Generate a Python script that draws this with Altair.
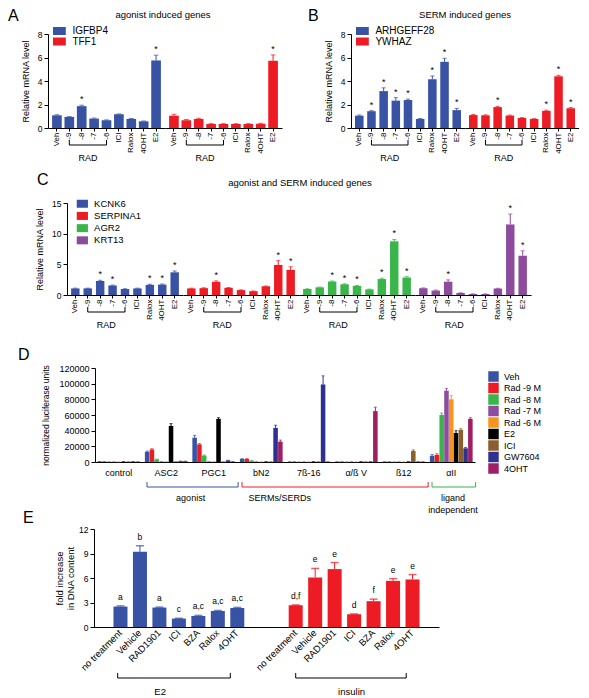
import altair as alt
import pandas as pd

FONT = "Liberation Sans"
BLUE = "#3953a4"
RED = "#ed1c24"
GREEN = "#39b54a"
PURPLE = "#8d4b9e"

conditions = ["Veh", "-9", "-8", "-7", "-6", "ICI", "Ralox", "4OHT", "E2"]

# ---- Panel A ----
igfbp4_val = [1.08, 0.94, 1.86, 0.80, 0.66, 1.17, 0.77, 0.57, 5.75]
igfbp4_err = [0.05, 0.03, 0.08, 0.05, 0.03, 0.03, 0.04, 0.03, 0.45]
igfbp4_sig = ["-8", "E2"]
tff1_val = [1.05, 0.66, 0.77, 0.34, 0.34, 0.34, 0.34, 0.36, 5.72]
tff1_err = [0.12, 0.06, 0.06, 0.03, 0.03, 0.03, 0.03, 0.04, 0.50]
tff1_sig = ["E2"]

# ---- Panel B ----
arhgeff28_val = [1.05, 1.43, 3.14, 2.33, 2.38, 0.77, 4.15, 5.63, 1.52]
arhgeff28_err = [0.06, 0.05, 0.28, 0.25, 0.08, 0.04, 0.28, 0.30, 0.15]
arhgeff28_sig = ["-9", "-8", "-7", "-6", "Ralox", "4OHT", "E2"]
ywhaz_val = [1.10, 1.08, 1.78, 1.06, 0.86, 0.77, 1.46, 4.40, 1.68]
ywhaz_err = [0.05, 0.04, 0.06, 0.04, 0.03, 0.03, 0.06, 0.08, 0.06]
ywhaz_sig = ["-8", "Ralox", "4OHT", "E2"]

# ---- Panel C ----
kcnk6_val = [1.07, 1.08, 2.28, 1.55, 0.98, 1.07, 1.65, 1.70, 3.70]
kcnk6_err = [0.05, 0.04, 0.12, 0.07, 0.05, 0.05, 0.12, 0.10, 0.22]
kcnk6_sig = ["-8", "-7", "Ralox", "4OHT", "E2"]
serpina1_val = [1.07, 1.12, 2.15, 1.17, 0.80, 0.62, 1.42, 4.90, 4.10]
serpina1_err = [0.05, 0.06, 0.15, 0.05, 0.04, 0.04, 0.05, 0.70, 0.50]
serpina1_sig = ["-8", "4OHT", "E2"]
agr2_val = [0.98, 1.25, 2.20, 1.75, 1.48, 0.92, 2.60, 8.75, 2.85]
agr2_err = [0.04, 0.05, 0.10, 0.08, 0.07, 0.05, 0.12, 0.30, 0.15]
agr2_sig = ["-8", "-7", "-6", "Ralox", "4OHT", "E2"]
krt13_val = [1.10, 0.72, 2.17, 0.33, 0.16, 0.16, 1.05, 11.50, 6.40]
krt13_err = [0.06, 0.10, 0.30, 0.03, 0.02, 0.02, 0.05, 1.70, 0.80]
krt13_sig = ["-8", "4OHT", "E2"]

# ---- Panel D ----
d_groups = ["control", "ASC2", "PGC1", "bN2", "7ß-16", "α/ß V", "ß12", "αII"]
d_treat = ["Veh", "Rad -9 M", "Rad -8 M", "Rad -7 M", "Rad -6 M", "E2", "ICI", "GW7604", "4OHT"]
d_colors = ["#3953a4", "#ed1c24", "#39b54a", "#8e4c9f", "#f7941d", "#000000", "#8b5e2b", "#2e3192", "#9e1f63"]
veh_lum = [600, 13000, 31000, 3800, 300, 300, 300, 8000]
veh_lerr = [100, 1000, 3000, 500, 50, 50, 50, 1500]
rad9_lum = [500, 16000, 22500, 3800, 300, 300, 300, 9000]
rad9_lerr = [100, 1000, 1000, 500, 50, 50, 50, 1500]
rad8_lum = [300, 3500, 8200, 1500, 200, 200, 200, 60000]
rad8_lerr = [50, 300, 800, 300, 50, 50, 50, 2500]
rad7_lum = [200, 400, 400, 300, 200, 200, 200, 91000]
rad7_lerr = [50, 50, 50, 50, 50, 50, 50, 3000]
rad6_lum = [200, 400, 400, 300, 200, 200, 200, 80000]
rad6_lerr = [50, 50, 50, 50, 50, 50, 50, 5000]
e2_lum = [300, 46000, 55000, 300, 300, 300, 300, 37000]
e2_lerr = [50, 3000, 1500, 50, 50, 50, 50, 3000]
ici_lum = [300, 400, 300, 300, 300, 300, 14000, 41000]
ici_lerr = [50, 50, 50, 50, 50, 50, 1500, 1500]
gw_lum = [500, 1000, 2000, 43500, 99000, 400, 300, 17500]
gw_lerr = [50, 100, 200, 3500, 11000, 50, 50, 1000]
oht_lum = [300, 1000, 500, 26000, 300, 65000, 300, 55000]
oht_lerr = [50, 100, 50, 2000, 50, 5000, 50, 1500]
d_yticks = [0, 20000, 40000, 60000, 80000, 100000, 120000]

brk_start = ["ASC2", "bN2", "αII"]
brk_end = ["PGC1", "ß12", "αII"]
brk_text = ["agonist", "SERMs/SERDs", "ligand\nindependent"]
brk_color = [BLUE, RED, GREEN]
brk_textpos = [1.0, 0.93, 0.54]
brk_textdx = [3, 0, 0]

# ---- Panel E ----
e_conds = ["no treatment", "Vehicle", "RAD1901", "ICI", "BZA", "Ralox", "4OHT"]
e2_dna = [2.50, 9.20, 2.38, 1.03, 1.35, 1.97, 2.33]
e2_dna_err = [0.08, 0.75, 0.05, 0.04, 0.07, 0.06, 0.07]
e2_letters = ["a", "b", "a", "c", "a,c", "a,c", "a,c"]
ins_dna = [2.66, 6.07, 7.09, 1.56, 3.16, 5.65, 5.82]
ins_dna_err = [0.04, 1.10, 0.80, 0.04, 0.25, 0.27, 0.60]
ins_letters = ["d,f", "e", "e", "d", "f", "e", "e"]
e_yticks = [0, 3, 6, 9, 12]

PO = 0.33
YT_GENE = "Relative mRNA level"
YT_D = "normalized luciferase units"
YT_E = ["fold increase", "in DNA content"]


def text_layer(txt, x, y, size, align="left", baseline="top"):
    return alt.Chart(pd.DataFrame({"t": [txt]})).mark_text(
        fontSize=size, align=align, baseline=baseline, color="black"
    ).encode(x=alt.value(x), y=alt.value(y), text="t:N")


def anchor_layer(x, top, bottom):
    return alt.Chart(pd.DataFrame({"k": [0]})).mark_rule(
        color="white", strokeOpacity=0
    ).encode(x=alt.value(x), y=alt.value(top), y2=alt.value(bottom))


def spacer(w):
    return alt.Chart(pd.DataFrame({"k": [0]})).mark_rule(
        color="white", strokeOpacity=0
    ).encode(x=alt.value(0), y=alt.value(0), y2=alt.value(1)).properties(width=w, height=1)


def gene_sub(gene, vals, errs, sig, color, w, h, ymax, yticks, pad, head):
    df = pd.DataFrame({
        "cond": conditions,
        "val": vals,
        "top": [v + e for v, e in zip(vals, errs)],
        "star": ["*" if c in sig else "" for c in conditions],
        "gene": [gene] * len(conditions),
    })
    if head is not None:
        yaxis = alt.Axis(values=yticks, labelFontSize=8.5, titleFontSize=9, tickSize=4,
                         labelPadding=2, titlePadding=7, labelOverlap=False)
        ykw = {"title": YT_GENE, "axis": yaxis}
        cscale = alt.Scale(domain=head["genes"], range=head["colors"])
        legend = alt.Legend(title=None, orient="none", legendX=head["lx"], legendY=head["ly"],
                            symbolType=head["sym"], symbolSize=64, symbolStrokeWidth=0,
                            labelFontSize=head["lfs"], labelOffset=head["loff"],
                            rowPadding=head["rp"], padding=0)
    else:
        ykw = {"axis": None}
        cscale = alt.Scale(domain=[gene], range=[color])
        legend = None
    xaxis = alt.Axis(labelAngle=-90, labelAlign="right", labelBaseline="middle",
                     labelFontSize=8, labelPadding=1, tickSize=3, labelOverlap=False)
    base = alt.Chart(df)
    bars = base.mark_bar().encode(
        x=alt.X("cond:N", title=None, scale=alt.Scale(domain=conditions, paddingInner=pad, paddingOuter=PO),
                axis=xaxis),
        y=alt.Y("val:Q", scale=alt.Scale(domain=[0, ymax], nice=False), **ykw),
        color=alt.Color("gene:N", scale=cscale, legend=legend),
    )
    xs = alt.X("cond:N", title=None, axis=xaxis)
    step = w / (len(conditions) - pad + 2 * PO)
    err = base.mark_rule(color=color, strokeWidth=1).encode(
        x=xs, y=alt.Y("val:Q", **ykw), y2=alt.Y2("top"))
    cap = base.mark_tick(color=color, thickness=1, size=step * (1 - pad) * 0.5).encode(
        x=xs, y=alt.Y("top:Q", **ykw))
    star = base.mark_text(fontSize=9, baseline="bottom", dy=-1, color="black").encode(
        x=xs, y=alt.Y("top:Q", **ykw), text="star:N")
    line = alt.Chart(pd.DataFrame({"a": ["-9"], "b": ["-6"]})).mark_rule(color="black", strokeWidth=1).encode(
        x=alt.X("a:N", title=None, axis=xaxis), x2=alt.X2("b"), y=alt.value(h + 17))
    ends = alt.Chart(pd.DataFrame({"a": ["-9", "-6"]})).mark_rule(color="black", strokeWidth=1).encode(
        x=alt.X("a:N", title=None, axis=xaxis), y=alt.value(h + 12), y2=alt.value(h + 17))
    rad = alt.Chart(pd.DataFrame({"a": ["-8"], "t": ["RAD"]})).mark_text(
        fontSize=9, baseline="middle", color="black", dx=step * pad / 2).encode(
        x=alt.X("a:N", bandPosition=1, title=None, axis=xaxis), y=alt.value(h + 30), text="t:N")
    return [bars, err, cap, star, line, ends, rad]


def gene_panel(genes, vals, errs, sigs, colors, w, h, ymax, yticks, pad, hd):
    subs = []
    for i, (g, v, e, s, c) in enumerate(zip(genes, vals, errs, sigs, colors)):
        head = None
        if i == 0:
            head = dict(hd, genes=genes, colors=colors)
        layers = gene_sub(g, v, e, s, c, w, h, ymax, yticks, pad, head)
        if i == 0:
            layers += [
                text_layer(hd["letter"], hd["letter_x"], hd["letter_y"], 16),
                text_layer(hd["title"], hd["title_x"], hd["title_y"], 9.5, align="center", baseline="middle"),
                anchor_layer(hd["ax"], hd["atop"], h + hd["abot"]),
            ]
        subs.append(alt.layer(*layers).properties(width=w, height=h))
    return alt.hconcat(*subs, spacing=0, bounds="flush").resolve_scale(color="independent")


RECT_A = "M-1.6,-1H1.6V1H-1.6Z"
RECT_C = "M-1.4,-1H1.4V1H-1.4Z"

panel_a = gene_panel(
    ["IGFBP4", "TFF1"], [igfbp4_val, tff1_val], [igfbp4_err, tff1_err], [igfbp4_sig, tff1_sig],
    [BLUE, RED], 117, 94, 8, [0, 2, 4, 6, 8], 0.22,
    dict(letter="A", letter_x=-40, letter_y=-26, title="agonist induced genes", title_x=115, title_y=-19,
         ax=-39.5, atop=-26, abot=38, lx=6.4, ly=-8, sym=RECT_A, lfs=10, loff=8, rp=0.5))
panel_b = gene_panel(
    ["ARHGEFF28", "YWHAZ"], [arhgeff28_val, ywhaz_val], [arhgeff28_err, ywhaz_err], [arhgeff28_sig, ywhaz_sig],
    [BLUE, RED], 114, 94, 8, [0, 2, 4, 6, 8], 0.3,
    dict(letter="B", letter_x=-43, letter_y=-26, title="SERM induced genes", title_x=114, title_y=-19,
         ax=-43, atop=-26, abot=38, lx=6.4, ly=-8, sym=RECT_A, lfs=10, loff=8, rp=0.5))
panel_c = gene_panel(
    ["KCNK6", "SERPINA1", "AGR2", "KRT13"],
    [kcnk6_val, serpina1_val, agr2_val, krt13_val],
    [kcnk6_err, serpina1_err, agr2_err, krt13_err],
    [kcnk6_sig, serpina1_sig, agr2_sig, krt13_sig],
    [BLUE, RED, GREEN, PURPLE], 116, 92, 15, [0, 5, 10, 15], 0.32,
    dict(letter="C", letter_x=-30, letter_y=-31, title="agonist and SERM induced genes", title_x=233, title_y=-20,
         ax=-58.5, atop=-37, abot=38, lx=10.6, ly=-4, sym=RECT_C, lfs=9.5, loff=7, rp=1.2))

# ---- Panel D chart ----
d_vals = [veh_lum, rad9_lum, rad8_lum, rad7_lum, rad6_lum, e2_lum, ici_lum, gw_lum, oht_lum]
d_errs = [veh_lerr, rad9_lerr, rad8_lerr, rad7_lerr, rad6_lerr, e2_lerr, ici_lerr, gw_lerr, oht_lerr]
d_rows = []
for t, vs, es in zip(d_treat, d_vals, d_errs):
    for g, v, e in zip(d_groups, vs, es):
        d_rows.append({"group": g, "treat": t, "val": v, "top": v + e})
d_df = pd.DataFrame(d_rows)
DW, DH = 380, 94
d_xaxis = alt.Axis(labelAngle=0, labelFontSize=9, ticks=False, labelPadding=6, labelOverlap=False)
d_yaxis = alt.Axis(values=d_yticks, format="d", labelFontSize=9, titleFontSize=8.5,
                   tickSize=4, titlePadding=8, labelOverlap=False)
d_base = alt.Chart(d_df)
d_bars = d_base.mark_bar().encode(
    x=alt.X("group:N", title=None, scale=alt.Scale(domain=d_groups, paddingInner=0.1, paddingOuter=0.05),
            axis=d_xaxis),
    xOffset=alt.XOffset("treat:N", scale=alt.Scale(domain=d_treat, paddingInner=0.05)),
    y=alt.Y("val:Q", title=YT_D, scale=alt.Scale(domain=[0, 120000], nice=False), axis=d_yaxis),
    color=alt.Color("treat:N", scale=alt.Scale(domain=d_treat, range=d_colors),
                    legend=alt.Legend(title=None, orient="none", legendX=393, legendY=3, symbolType="square",
                                      symbolSize=110, symbolStrokeWidth=0, labelFontSize=9, labelOffset=5,
                                      rowPadding=0.5, padding=0)),
)
d_err = d_base.mark_rule(strokeWidth=1).encode(
    x=alt.X("group:N", title=None, axis=d_xaxis), xOffset="treat:N",
    y=alt.Y("val:Q", title=YT_D, axis=d_yaxis), y2=alt.Y2("top"),
    color=alt.Color("treat:N", legend=None))
d_cap = d_base.mark_tick(thickness=1, size=3).encode(
    x=alt.X("group:N", title=None, axis=d_xaxis), xOffset="treat:N",
    y=alt.Y("top:Q", title=YT_D, axis=d_yaxis), color=alt.Color("treat:N", legend=None))
d_layers = [d_bars, d_err, d_cap]
for s, e, txt, col, tp, tdx in zip(brk_start, brk_end, brk_text, brk_color, brk_textpos, brk_textdx):
    bdf = pd.DataFrame({"a": [s], "b": [e], "t": [txt]})
    bc = alt.Chart(bdf)
    d_layers.append(bc.mark_rule(color=col, strokeWidth=1, x2Offset=3).encode(
        x=alt.X("a:N", bandPosition=0.05, title=None, axis=d_xaxis), x2=alt.X2("b", bandPosition=1),
        y=alt.value(DH + 25)))
    d_layers.append(bc.mark_rule(color=col, strokeWidth=1).encode(
        x=alt.X("a:N", bandPosition=0.05, title=None, axis=d_xaxis), y=alt.value(DH + 20), y2=alt.value(DH + 25)))
    d_layers.append(bc.mark_rule(color=col, strokeWidth=1, xOffset=3).encode(
        x=alt.X("b:N", bandPosition=1, title=None, axis=d_xaxis), y=alt.value(DH + 20), y2=alt.value(DH + 25)))
    d_layers.append(bc.mark_text(fontSize=9, baseline="top", lineBreak="\n", lineHeight=12, color="black",
                                 dx=tdx).encode(
        x=alt.X("a:N", bandPosition=tp, title=None, axis=d_xaxis), y=alt.value(DH + 32), text="t:N"))
d_layers += [text_layer("D", -77, -21, 16), anchor_layer(-86.5, -35, DH + 56)]
panel_d = alt.layer(*d_layers).properties(width=DW, height=DH)

# ---- Panel E chart ----
e_keys = [f"E2|{c}" for c in e_conds] + ["gap1", "gap2"] + [f"insulin|{c}" for c in e_conds]
e_df = pd.DataFrame({
    "key": [f"E2|{c}" for c in e_conds] + [f"insulin|{c}" for c in e_conds],
    "val": e2_dna + ins_dna,
    "top": [v + e for v, e in zip(e2_dna + ins_dna, e2_dna_err + ins_dna_err)],
    "lab": e2_letters + ins_letters,
    "grp": ["E2"] * len(e_conds) + ["insulin"] * len(e_conds),
})
EW, EH = 345, 98
e_xaxis = alt.Axis(labelAngle=-45, labelAlign="right", labelBaseline="middle",
                   labelFontSize=9.5, ticks=False, labelPadding=4, labelOverlap=False,
                   labelExpr="indexof(datum.value, '|') > 0 ? split(datum.value, '|')[1] : ''")
e_yaxis = alt.Axis(values=e_yticks, labelFontSize=8.5, titleFontSize=9.5, tickSize=4,
                   titlePadding=3, labelOverlap=False)
e_base = alt.Chart(e_df)
e_color = alt.Color("grp:N", scale=alt.Scale(domain=["E2", "insulin"], range=[BLUE, RED]), legend=None)
e_bars = e_base.mark_bar().encode(
    x=alt.X("key:N", title=None, scale=alt.Scale(domain=e_keys, paddingInner=0.28, paddingOuter=1.0),
            axis=e_xaxis),
    y=alt.Y("val:Q", title=YT_E, scale=alt.Scale(domain=[0, 12], nice=False), axis=e_yaxis),
    color=e_color,
)
e_err = e_base.mark_rule(strokeWidth=1).encode(
    x=alt.X("key:N", title=None, axis=e_xaxis), y=alt.Y("val:Q", title=YT_E, axis=e_yaxis),
    y2=alt.Y2("top"), color=e_color)
e_cap = e_base.mark_tick(thickness=1.5, size=8).encode(
    x=alt.X("key:N", title=None, axis=e_xaxis), y=alt.Y("top:Q", title=YT_E, axis=e_yaxis), color=e_color)
e_lab = e_base.mark_text(fontSize=8.5, baseline="bottom", dy=-4, color="black").encode(
    x=alt.X("key:N", title=None, axis=e_xaxis), y=alt.Y("top:Q", title=YT_E, axis=e_yaxis), text="lab:N")
e_layers = [e_bars, e_err, e_cap, e_lab]
e_brk = [("E2|no treatment", 0.3, "E2|4OHT", 0.0, "E2|RAD1901", 0.55, "E2"),
         ("insulin|no treatment", 0.5, "insulin|4OHT", 0.05, "insulin|ICI", 0.32, "insulin")]
for a, ab, b, bb, c, cb, txt in e_brk:
    bc = alt.Chart(pd.DataFrame({"a": [a], "b": [b], "c": [c], "t": [txt]}))
    e_layers.append(bc.mark_rule(color="black", strokeWidth=1).encode(
        x=alt.X("a:N", bandPosition=ab, title=None, axis=e_xaxis), x2=alt.X2("b", bandPosition=bb),
        y=alt.value(EH + 51)))
    e_layers.append(bc.mark_rule(color="black", strokeWidth=1).encode(
        x=alt.X("a:N", bandPosition=ab, title=None, axis=e_xaxis), y=alt.value(EH + 46), y2=alt.value(EH + 51)))
    e_layers.append(bc.mark_rule(color="black", strokeWidth=1).encode(
        x=alt.X("b:N", bandPosition=bb, title=None, axis=e_xaxis), y=alt.value(EH + 46), y2=alt.value(EH + 51)))
    e_layers.append(bc.mark_text(fontSize=9.5, baseline="middle", color="black").encode(
        x=alt.X("c:N", bandPosition=cb, title=None, axis=e_xaxis), y=alt.value(EH + 65), text="t:N"))
e_layers += [text_layer("E", -71, -19, 16), anchor_layer(-85.5, -23, EH + 70)]
panel_e = alt.layer(*e_layers).properties(width=EW, height=EH)

row1 = alt.hconcat(
    spacer(40),
    alt.hconcat(panel_a, panel_b, spacing=26).resolve_scale(color="independent"),
    spacing=0, bounds="flush").resolve_scale(color="independent")
row2 = alt.hconcat(spacer(59), panel_c, spacing=0, bounds="flush").resolve_scale(color="independent")
row3 = alt.hconcat(spacer(87), panel_d, spacing=0, bounds="flush").resolve_scale(color="independent")
row4 = alt.hconcat(spacer(86), panel_e, spacing=0, bounds="flush").resolve_scale(color="independent")
row34 = alt.vconcat(row3, row4, spacing=-12).resolve_scale(color="independent")

chart = alt.vconcat(row1, row2, row34, spacing=0).resolve_scale(color="independent").properties(padding=0)
chart = chart.configure(font=FONT).configure_view(stroke=None).configure_axis(
    domainColor="black", tickColor="black", labelColor="black", titleColor="black",
    grid=False, titleFontWeight="normal", labelFont=FONT, titleFont=FONT, domainWidth=1, tickWidth=1,
    labelOverlap=False
).configure_legend(labelFont=FONT, labelColor="black").configure_text(font=FONT)

chart.save("out.html", embed_options={"renderer": "svg", "actions": False})
